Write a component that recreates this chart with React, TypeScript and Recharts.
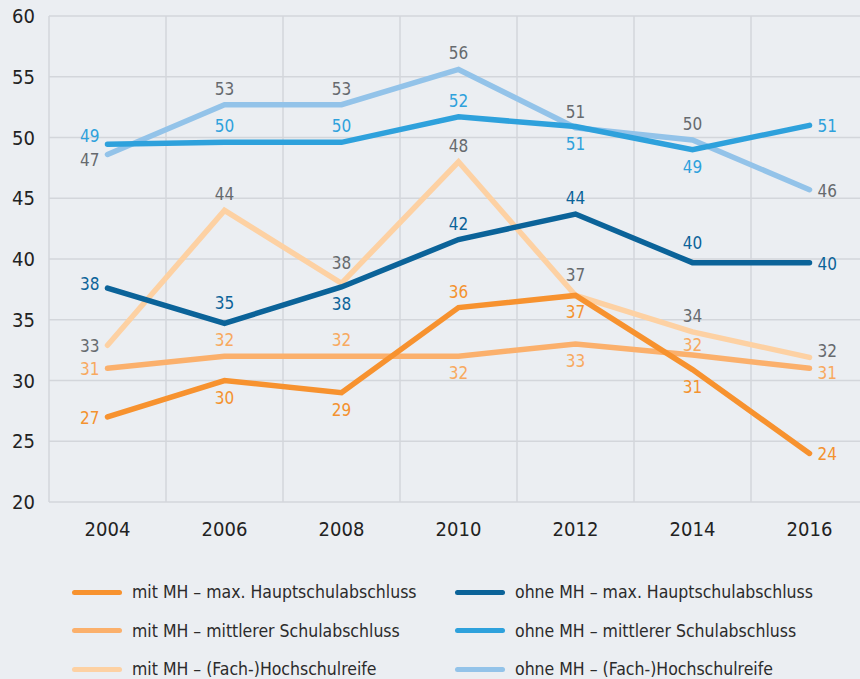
import React from "react";
import { LineChart, Line, XAxis, YAxis, CartesianGrid, LabelList } from "recharts";

const years = [2004, 2006, 2008, 2010, 2012, 2014, 2016];
const yTicks = [20, 25, 30, 35, 40, 45, 50, 55, 60];

// line positions
const mitHaupt = [27.0, 30.0, 29.0, 36.0, 37.0, 30.9, 24.0];
const mitMittel = [31.0, 32.0, 32.0, 32.0, 33.0, 32.1, 31.0];
const mitHoch = [32.9, 44.0, 38.0, 48.0, 37.0, 34.0, 31.9];
const ohneHaupt = [37.6, 34.7, 37.7, 41.6, 43.7, 39.7, 39.7];
const ohneMittel = [49.45, 49.6, 49.6, 51.7, 50.9, 49.0, 51.0];
const ohneHoch = [48.6, 52.7, 52.7, 55.6, 50.8, 49.8, 45.7];

// printed labels
const mitHauptLbl = ["27", "30", "29", "36", "37", "31", "24"];
const mitMittelLbl = ["31", "32", "32", "32", "33", "32", "31"];
const mitHochLbl = ["33", "44", "38", "48", "37", "34", "32"];
const ohneHauptLbl = ["38", "35", "38", "42", "44", "40", "40"];
const ohneMittelLbl = ["49", "50", "50", "52", "51", "49", "51"];
const ohneHochLbl = ["47", "53", "53", "56", "51", "50", "46"];

// label placement codes
const mitHauptPos = ["l", "b", "b", "t", "b", "b", "r"];
const mitMittelPos = ["l", "t", "t", "b", "b", "ts", "rb"];
const mitHochPos = ["l", "t", "T", "t", "T", "t", "rt"];
const ohneHauptPos = ["lt", "T", "b", "t", "t", "T", "r"];
const ohneMittelPos = ["lt2", "t", "t", "t", "b", "b", "r"];
const ohneHochPos = ["lb", "t", "t", "t", "t", "t", "r"];

const data = years.map((year, i) => ({
  year,
  mitHaupt: mitHaupt[i],
  mitMittel: mitMittel[i],
  mitHoch: mitHoch[i],
  ohneHaupt: ohneHaupt[i],
  ohneMittel: ohneMittel[i],
  ohneHoch: ohneHoch[i],
}));

const FONT = "'Liberation Sans Narrow', 'DejaVu Sans Condensed', 'Liberation Sans', sans-serif";
const GRAY = "#666a6e";

const series = [
  { key: "ohneHoch", name: "ohne MH – (Fach-)Hochschulreife", color: "#93c3e9", labelColor: GRAY, lbl: ohneHochLbl, pos: ohneHochPos },
  { key: "mitHoch", name: "mit MH – (Fach-)Hochschulreife", color: "#fdd1a3", labelColor: GRAY, lbl: mitHochLbl, pos: mitHochPos },
  { key: "mitMittel", name: "mit MH – mittlerer Schulabschluss", color: "#fbb06c", labelColor: "#f8a95f", lbl: mitMittelLbl, pos: mitMittelPos },
  { key: "mitHaupt", name: "mit MH – max. Hauptschulabschluss", color: "#f7922f", labelColor: "#f4922f", lbl: mitHauptLbl, pos: mitHauptPos },
  { key: "ohneMittel", name: "ohne MH – mittlerer Schulabschluss", color: "#2ea1dc", labelColor: "#2ea1dc", lbl: ohneMittelLbl, pos: ohneMittelPos },
  { key: "ohneHaupt", name: "ohne MH – max. Hauptschulabschluss", color: "#0b6399", labelColor: "#0b6399", lbl: ohneHauptLbl, pos: ohneHauptPos },
];

const legendLeft = ["mitHaupt", "mitMittel", "mitHoch"];
const legendRight = ["ohneHaupt", "ohneMittel", "ohneHoch"];

const placement: Record<string, { dx: number; dy: number; anchor: string }> = {
  t: { dx: 0, dy: -16, anchor: "middle" },
  ts: { dx: 0, dy: -10, anchor: "middle" },
  T: { dx: 0, dy: -20, anchor: "middle" },
  b: { dx: 0, dy: 17, anchor: "middle" },
  l: { dx: -8, dy: 1, anchor: "end" },
  lt: { dx: -8, dy: -4, anchor: "end" },
  lt2: { dx: -8, dy: -8, anchor: "end" },
  lb: { dx: -8, dy: 5, anchor: "end" },
  r: { dx: 8, dy: 1, anchor: "start" },
  rt: { dx: 8, dy: -6, anchor: "start" },
  rb: { dx: 8, dy: 5, anchor: "start" },
};

const makeLabel = (s: any) => (props: any) => {
  const { x, y, index } = props;
  const p = placement[s.pos[index]] || placement.t;
  return (
    <text
      x={x + p.dx}
      y={y + p.dy}
      textAnchor={p.anchor}
      dominantBaseline="central"
      fill={s.labelColor}
      fontSize={17}
      fontFamily={FONT}
    >
      {s.lbl[index]}
    </text>
  );
};

const xDomain = [years[0] - 1, years[years.length - 1] + 1];
const boundaries = [...years.map((y) => y - 1), years[years.length - 1] + 1];

const verticalGen = (args: any) => {
  const { offset, xAxis } = args;
  if (xAxis && typeof xAxis.scale === "function") {
    return boundaries.map((b) => xAxis.scale(b));
  }
  return boundaries.map(
    (b) => offset.left + ((b - xDomain[0]) / (xDomain[1] - xDomain[0])) * offset.width
  );
};

const LegendItem = ({ s }: { s: any }) => (
  <div style={{ display: "flex", alignItems: "center", height: 38.5 }}>
    <div style={{ width: 50, height: 5, borderRadius: 3, background: s.color, marginRight: 10 }} />
    <span style={{ fontFamily: FONT, fontSize: 17.5, lineHeight: "20px", color: "#2b2b2b", whiteSpace: "nowrap" }}>{s.name}</span>
  </div>
);

export default function App() {
  const byKey = (k: string) => series.find((s) => s.key === k)!;
  return (
    <div
      style={{
        position: "absolute",
        left: 0,
        top: 0,
        width: 860,
        height: 679,
        overflow: "hidden",
        background: "#ebeef2",
      }}
    >
      <LineChart
        width={880}
        height={679}
        data={data}
        margin={{ top: 16, right: 12, left: 0, bottom: 0 }}
      >
        <CartesianGrid
          stroke="#d3d6db"
          strokeWidth={1.5}
          verticalCoordinatesGenerator={verticalGen}
        />
        <XAxis
          dataKey="year"
          type="number"
          domain={xDomain}
          ticks={years}
          axisLine={false}
          tickLine={false}
          tickSize={0}
          tickMargin={20}
          height={177}
          tick={{ fill: "#222", fontSize: 20, fontFamily: FONT }}
        />
        <YAxis
          domain={[20, 60]}
          ticks={yTicks}
          axisLine={false}
          tickLine={false}
          tickSize={0}
          tickMargin={14}
          width={49}
          tick={{ fill: "#222", fontSize: 20, fontFamily: FONT }}
        />
        {series.map((s) => (
          <Line
            key={s.key}
            dataKey={s.key}
            type="linear"
            stroke={s.color}
            strokeWidth={5.5}
            strokeLinecap="round"
            dot={false}
            activeDot={false}
            isAnimationActive={false}
          >
            <LabelList dataKey={s.key} content={makeLabel(s)} />
          </Line>
        ))}
      </LineChart>
      <div style={{ position: "absolute", left: 72, top: 573 }}>
        {legendLeft.map((k) => (
          <LegendItem key={k} s={byKey(k)} />
        ))}
      </div>
      <div style={{ position: "absolute", left: 455, top: 573 }}>
        {legendRight.map((k) => (
          <LegendItem key={k} s={byKey(k)} />
        ))}
      </div>
    </div>
  );
}
